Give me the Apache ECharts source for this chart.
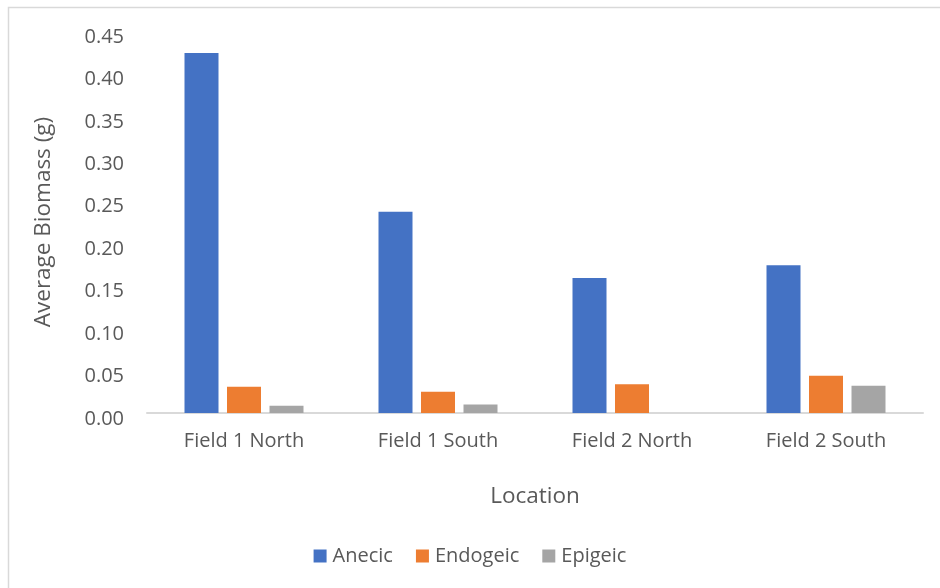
<!DOCTYPE html>
<html>
<head>
<meta charset="utf-8">
<script src="https://cdn.jsdelivr.net/npm/echarts@6/dist/echarts.min.js"></script>
<style>
  html, body { margin: 0; padding: 0; background: #fff; }
  #chart { width: 940px; height: 588px; }
</style>
</head>
<body>
<div id="chart"></div>
<script>
// Average earthworm biomass per location, by ecological group
const locations = ['Field 1 North', 'Field 1 South', 'Field 2 North', 'Field 2 South'];
const anecic    = [0.424, 0.237, 0.159, 0.174];
const endogeic  = [0.031, 0.025, 0.034, 0.044];
const epigeic   = [0.0085, 0.010, 0, 0.032];

const textColor = '#595959';
const fontFamily = '"Open Sans", "Noto Sans", sans-serif';

const chart = echarts.init(document.getElementById('chart'), null, { renderer: 'canvas' });

function barSeries(name, data, color) {
  return {
    name: name,
    type: 'bar',
    data: data,
    barWidth: 34,
    barGap: '25%',
    itemStyle: { color: color, borderWidth: 0 },
    emphasis: { disabled: true }
  };
}

chart.setOption({
  animation: false,
  backgroundColor: '#fff',
  textStyle: { fontFamily: fontFamily, color: textColor },
  graphic: [{
    type: 'rect',
    shape: { x: 8.5, y: 7.5, width: 960, height: 620 },
    style: { fill: 'none', stroke: '#d9d9d9', lineWidth: 1.5 },
    silent: true
  }],
  grid: { left: 147, right: 17, top: 31, bottom: 175, containLabel: false },
  legend: {
    bottom: 17,
    left: 'center',
    itemWidth: 13,
    itemHeight: 13,
    itemGap: 23,
    icon: 'rect',
    textStyle: { fontSize: 20, color: textColor, fontFamily: fontFamily, padding: [0, 0, 0, 1] },
    data: ['Anecic', 'Endogeic', 'Epigeic']
  },
  xAxis: {
    type: 'category',
    data: locations,
    name: 'Location',
    nameLocation: 'middle',
    nameGap: 72,
    nameTextStyle: { fontSize: 22.5, color: textColor, fontFamily: fontFamily },
    axisLine: { lineStyle: { color: '#d9d9d9', width: 2 } },
    axisTick: { show: false },
    axisLabel: { fontSize: 20, color: textColor, margin: 18, fontFamily: fontFamily }
  },
  yAxis: {
    type: 'value',
    min: 0,
    max: 0.45,
    interval: 0.05,
    name: 'Average Biomass (g)',
    nameLocation: 'middle',
    nameRotate: 90,
    nameGap: 92,
    nameTextStyle: { fontSize: 22.5, color: textColor, fontFamily: fontFamily },
    axisLine: { show: false },
    axisTick: { show: false },
    splitLine: { show: false },
    axisLabel: {
      fontSize: 20,
      color: textColor,
      margin: 23,
      fontFamily: fontFamily,
      verticalAlign: 'top',
      lineHeight: 12,
      formatter: v => v.toFixed(2)
    }
  },
  series: [
    barSeries('Anecic', anecic, '#4472c4'),
    barSeries('Endogeic', endogeic, '#ed7d31'),
    barSeries('Epigeic', epigeic, '#a5a5a5')
  ]
});
</script>
</body>
</html>
